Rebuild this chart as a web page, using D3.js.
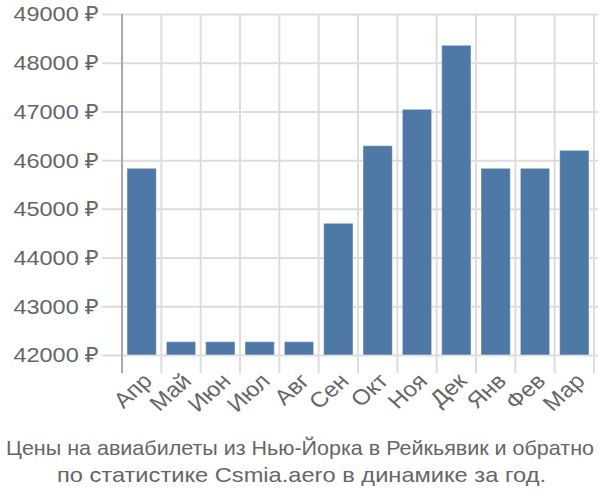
<!DOCTYPE html>
<html><head><meta charset="utf-8">
<script src="https://cdn.jsdelivr.net/npm/d3@7"></script>
<style>body{margin:0;background:#fff;}svg{display:block;font-family:"Liberation Sans",Arial,sans-serif;}</style>
</head><body><svg id="c" width="600" height="500"></svg>
<script>
const months = ["Апр","Май","Июн","Июл","Авг","Сен","Окт","Ноя","Дек","Янв","Фев","Мар"];
const prices = [45833, 42273, 42273, 42273, 42273, 44704, 46297, 47044, 48358, 45833, 45833, 46202];
const yTicks = [42000, 43000, 44000, 45000, 46000, 47000, 48000, 49000];
const titleLines = ["Цены на авиабилеты из Нью-Йорка в Рейкьявик и обратно","по статистике Csmia.aero в динамике за год."];

const svg = d3.select("#c");
const mL = 122, mR = 594, mT = 14, mB = 355;
const SX = 1.12; // horizontal stretch of the text in the reference
const x = d3.scaleBand().domain(months).range([mL, mR]).padding(0);
const y = d3.scaleLinear().domain([42000, 49000]).range([mB, mT]);

// horizontal grid + ticks
const yg = svg.append("g").attr("transform", `translate(${mL},0)`)
  .call(d3.axisLeft(y).tickValues(yTicks).tickSize(-(mR - mL + 4)).tickFormat(""));
yg.select(".domain").remove();
yg.selectAll(".tick line").attr("stroke", "#ddd").attr("stroke-width", 2).attr("x1", -20);

svg.append("g").selectAll("text").data(yTicks).join("text")
  .attr("transform", d => `translate(99,${y(d)}) scale(${SX},1)`)
  .attr("text-anchor", "end").attr("dy", "0.35em")
  .attr("fill", "#666").attr("font-size", 21).text(d => d + " ₽");

// vertical grid
const bounds = months.map(m => x(m)).concat([mR]);
svg.append("g").selectAll("line").data(bounds.slice(1)).join("line")
  .attr("x1", d => d).attr("x2", d => d).attr("y1", mT).attr("y2", mB + 18)
  .attr("stroke", "#ddd").attr("stroke-width", 2);

// bars
svg.append("g").selectAll("rect").data(prices).join("rect")
  .attr("x", (d, i) => x(months[i]) + 5)
  .attr("width", x.bandwidth() - 10)
  .attr("y", d => y(d))
  .attr("height", d => mB - y(d))
  .attr("fill", "#4e79a7")
  .attr("stroke", "rgba(255,255,255,0.45)").attr("stroke-width", 1);

// y axis line
svg.append("line").attr("x1", mL).attr("x2", mL).attr("y1", mT).attr("y2", mB + 18)
  .attr("stroke", "#aaa").attr("stroke-width", 2);

// x labels
svg.append("g").selectAll("text").data(months).join("text")
  .attr("transform", d => `translate(${x(d) + x.bandwidth()/2 - 1},${mB + 16}) scale(${SX},1) rotate(-45)`)
  .attr("text-anchor", "end").attr("dy", "0.75em")
  .attr("fill", "#666").attr("font-size", 21.5).text(d => d);

// title
const titleLen = [588, 489];
svg.append("g").selectAll("text").data(titleLines).join("text")
  .attr("x", (d, i) => i === 0 ? 300 : 301.5).attr("y", (d, i) => 455 + i * 27)
  .attr("text-anchor", "middle")
  .attr("textLength", (d, i) => titleLen[i]).attr("lengthAdjust", "spacingAndGlyphs")
  .attr("fill", "#666").attr("font-size", 21).text(d => d);
</script></body></html>
